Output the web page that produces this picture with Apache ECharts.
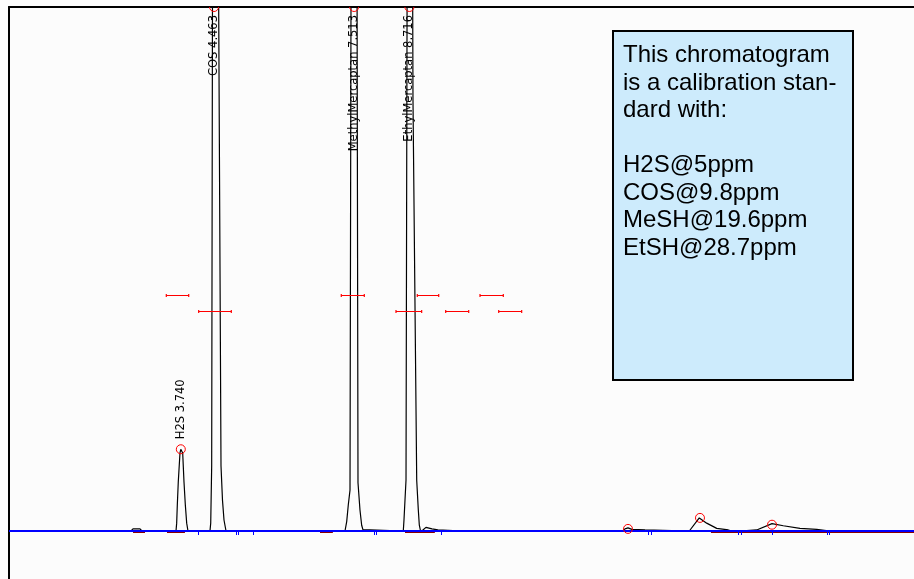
<!DOCTYPE html>
<html>
<head>
<meta charset="utf-8">
<script src="https://cdn.jsdelivr.net/npm/echarts@6/dist/echarts.min.js"></script>
<style>
html,body{margin:0;padding:0;background:#fcfcfc;}
#chart{width:914px;height:579px;}
</style>
</head>
<body>
<div id="chart"></div>
<script>
// Retention time (min) and detector signal of the chromatogram trace
var chromTime = [0, 2.656, 2.699, 2.852, 2.895,
  3.635, 3.650, 3.664, 3.685, 3.722, 3.740, 3.781, 3.809, 3.838, 3.868, 3.896,
  4.375, 4.391, 4.412, 4.463, 4.615, 4.647, 4.680, 4.724,
  7.314, 7.351, 7.386, 7.423, 7.513, 7.597, 7.640, 7.677, 7.706, 7.858, 7.880,
  8.583, 8.598, 8.620, 8.642, 8.716, 8.794, 8.875, 8.910, 8.932, 8.958,
  9.011, 9.076, 9.207, 9.336, 9.665, 9.700,
  13.359, 13.409, 13.474, 13.561, 13.845, 13.888,
  14.809, 15.026, 15.187, 15.405, 15.657, 15.738,
  15.912, 16.276, 16.609, 16.855, 17.218, 17.582, 17.871, 19.7];
var chromSignal = [0, 0, 0.4, 0.4, 0,
  0, 1.5, 5.0, 9.4, 14.9, 15.6, 14.9, 9.4, 5.0, 1.5, 0,
  0, 1.5, 12.4, 275, 12.4, 5.9, 2.1, 0,
  0, 1.8, 5.0, 7.8, 395, 9.2, 4.0, 1.1, 0.2, 0.2, 0,
  0, 2.1, 5.9, 9.7, 300, 82.3, 9.7, 4.0, 1.1, 0,
  0.2, 0.7, 0.4, 0.2, 0.1, 0,
  0, 0.4, 0.6, 0.3, 0.2, 0,
  0, 2.5, 1.5, 0.5, 0.2, 0,
  0, 0.2, 1.4, 1.0, 0.5, 0.3, 0, 0];

// Detected peaks
var peakLabels = ['H2S 3.740', 'COS 4.463', 'MethylMercaptan 7.513', 'EthylMercaptan 8.716', '', '', ''];
var peakTimes = [3.740, 4.463, 7.513, 8.716, 13.474, 15.041, 16.609];
var peakHeights = [15.6, 275, 395, 300, 0.4, 2.5, 1.2];

// Retention windows (red bars)
var windowStart = [3.424, 7.233, 8.888, 10.253, 4.129, 8.424, 9.506, 10.660];
var windowEnd = [3.912, 7.734, 9.354, 10.760, 4.839, 8.983, 10.007, 11.160];
var windowLevel = [45.0, 45.0, 45.0, 45.0, 41.9, 41.9, 41.9, 41.9];

// Integration event marks on the baseline
var eventTimes = [4.108, 4.935, 4.978, 5.305, 7.945, 7.989, 9.404, 13.916, 13.968, 15.862, 15.934, 16.602, 17.800, 17.843];

// Baseline segments (dark red)
var baseSegStart = [2.70, 3.44, 6.77, 8.62, 15.28];
var baseSegEnd = [2.96, 3.83, 7.05, 9.27, 19.7];

// Axis range
var timeMin = 0, timeMax = 19.7;
var signalMin = -9.16, signalMax = 100;

// Note box text
var noteLines = ['This chromatogram', 'is a calibration stan-', 'dard with:', '', 'H2S@5ppm', 'COS@9.8ppm', 'MeSH@19.6ppm', 'EtSH@28.7ppm'];

var chromData = chromTime.map(function (t, i) { return [t, chromSignal[i]]; });
var peakData = peakTimes.map(function (t, i) { return [t, peakHeights[i], i]; });
var windowData = windowStart.map(function (s, i) { return [s, windowEnd[i], windowLevel[i]]; });
var eventData = eventTimes.map(function (t) { return [t, 0]; });
var baseSegData = [];
baseSegStart.forEach(function (s, i) {
  baseSegData.push([s, -0.25]); baseSegData.push([baseSegEnd[i], -0.25]); baseSegData.push([baseSegEnd[i], null]);
});

var chart = echarts.init(document.getElementById('chart'), null, {renderer: 'canvas'});
chart.setOption({
  animation: false,
  backgroundColor: '#fcfcfc',
  grid: {left: 9, right: 0, top: 7, bottom: 0, containLabel: false},
  xAxis: {
    type: 'value', min: timeMin, max: timeMax, position: 'top',
    axisLine: {show: true, onZero: false, lineStyle: {color: '#000', width: 2}},
    axisTick: {show: false}, axisLabel: {show: false}, splitLine: {show: false}
  },
  yAxis: {
    type: 'value', min: signalMin, max: signalMax,
    axisLine: {show: true, onZero: false, lineStyle: {color: '#000', width: 2}},
    axisTick: {show: false}, axisLabel: {show: false}, splitLine: {show: false}
  },
  series: [
    {
      type: 'line', data: chromData, symbol: 'none', clip: true, z: 2,
      lineStyle: {color: '#000', width: 1.2}
    },
    {
      type: 'line', data: baseSegData, symbol: 'none', connectNulls: false, z: 3,
      lineStyle: {color: '#8b0000', width: 1.5}
    },
    {
      type: 'line', data: [[timeMin, 0], [timeMax, 0]], symbol: 'none', z: 4,
      lineStyle: {color: '#0000ff', width: 2}
    },
    {
      type: 'custom', data: eventData, z: 5,
      renderItem: function (params, api) {
        var p = api.coord([api.value(0), api.value(1)]);
        return {type: 'line', shape: {x1: Math.round(p[0]) + 0.5, y1: p[1] + 1, x2: Math.round(p[0]) + 0.5, y2: p[1] + 4},
          style: {stroke: '#0000ff', lineWidth: 1}};
      }
    },
    {
      type: 'custom', data: windowData, z: 6,
      renderItem: function (params, api) {
        var a = api.coord([api.value(0), api.value(2)]);
        var b = api.coord([api.value(1), api.value(2)]);
        var y = Math.round(a[1]) + 0.5;
        return {type: 'group', children: [
          {type: 'line', shape: {x1: a[0], y1: y, x2: b[0], y2: y}, style: {stroke: '#ff0000', lineWidth: 1}},
          {type: 'line', shape: {x1: a[0], y1: y - 1.5, x2: a[0], y2: y + 1.5}, style: {stroke: '#ff0000', lineWidth: 1.2}},
          {type: 'line', shape: {x1: b[0], y1: y - 1.5, x2: b[0], y2: y + 1.5}, style: {stroke: '#ff0000', lineWidth: 1.2}}
        ]};
      }
    },
    {
      type: 'custom', data: peakData, z: 7, clip: true,
      renderItem: function (params, api) {
        var t = api.value(0), v = api.value(1), idx = api.value(2);
        var offScale = v > signalMax;
        var p = api.coord([t, Math.min(v, signalMax)]);
        var topY = api.coord([t, signalMax])[1];
        var children = [{
          type: 'circle', shape: {cx: p[0], cy: p[1], r: 4.5},
          style: {fill: 'none', stroke: '#ff0000', lineWidth: 1}
        }];
        var label = peakLabels[idx];
        if (label) {
          children.push({
            type: 'text', x: p[0], y: offScale ? topY + 8 : p[1] - 10, rotation: Math.PI / 2,
            style: {text: label, font: '11.5px "DejaVu Sans"', fill: '#000',
              align: offScale ? 'right' : 'left', verticalAlign: 'middle'}
          });
        }
        return {type: 'group', children: children};
      }
    }
  ],
  graphic: [
    {type: 'rect', left: 612, top: 30, z: 100,
      shape: {x: 0, y: 0, width: 240, height: 349},
      style: {fill: '#cdebfc', stroke: '#000', lineWidth: 2}},
    {type: 'text', left: 623, top: 42, z: 101,
      style: {text: noteLines.join('\n'), font: '24px "Liberation Sans"', lineHeight: 27.5, fill: '#000'}}
  ]
});
</script>
</body>
</html>
